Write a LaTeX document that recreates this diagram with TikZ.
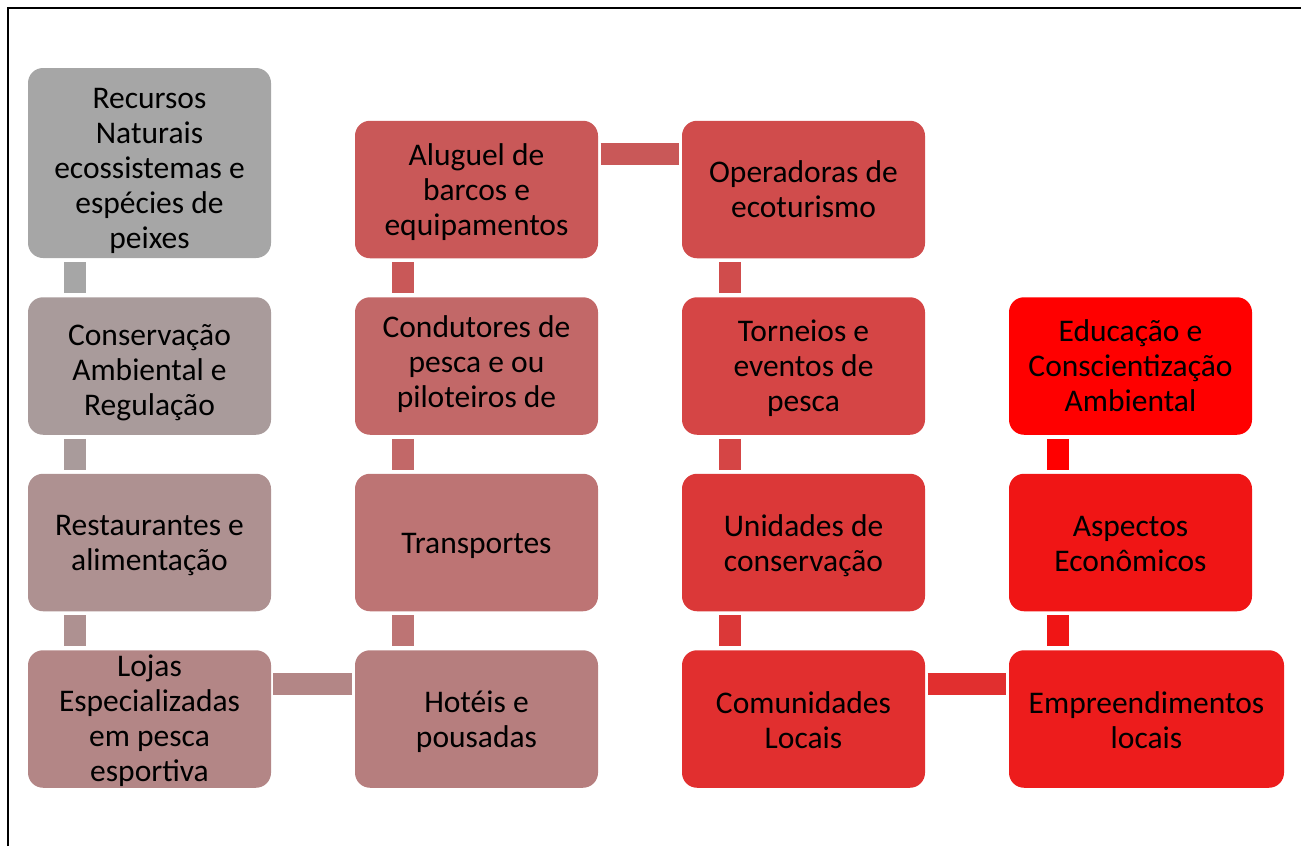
\documentclass[tikz,border=0pt]{standalone}
\usepackage{fontspec}
\setmainfont{Carlito}
\begin{document}
\begin{tikzpicture}[x=1pt,y=-1pt,
  box/.style={rounded corners=15pt, minimum width=243pt, minimum height=137.5pt,
    inner sep=0pt, draw=none},
  txt/.style={align=center, inner sep=0pt, font=\fontsize{31.5}{35}\selectfont, text=black},
  conn/.style={line width=22pt}
]
\useasboundingbox (0,0) rectangle (1301,846);
\definecolor{cA}{HTML}{A6A6A6}
\definecolor{cB}{HTML}{A99B9B}
\definecolor{cC}{HTML}{AE9191}
\definecolor{cD}{HTML}{B38686}
\definecolor{cE}{HTML}{C95858}
\definecolor{cF}{HTML}{C26868}
\definecolor{cG}{HTML}{BD7474}
\definecolor{cH}{HTML}{B67E7E}
\definecolor{cI}{HTML}{D04C4C}
\definecolor{cJ}{HTML}{D54545}
\definecolor{cK}{HTML}{DB3838}
\definecolor{cL}{HTML}{E12F2F}
\definecolor{cM}{HTML}{FF0000}
\definecolor{cN}{HTML}{F01515}
\definecolor{cO}{HTML}{ED1C1C}

% frame
\draw[line width=2.5pt] (8,846) -- (8,8) -- (1302,8);

% column 1
\node[box, fill=cA, minimum height=190pt, label={[txt,yshift=-8pt]center:{Recursos\\Naturais\\ecossistemas e\\espécies de\\peixes}}] (rec) at (149.5,163) {};
\node[box, fill=cB, label={[txt,yshift=-7pt]center:{Conservação\\Ambiental e\\Regulação}}] (cons) at (149.5,366) {};
\node[box, fill=cC, label={[txt,yshift=-3pt]center:{Restaurantes e\\alimentação}}] (rest) at (149.5,542.5) {};
\node[box, fill=cD, label={[txt,yshift=-2pt]center:{Lojas\\Especializadas\\em pesca\\esportiva}}] (loj) at (149.5,719) {};

% column 2
\node[box, fill=cE, label={[txt,yshift=-3pt]center:{Aluguel de\\barcos e\\equipamentos}}] (alug) at (476.5,189.5) {};
\node[box, fill=cF, label={[txt,yshift=2pt]center:{Condutores de\\pesca e ou\\piloteiros de}}] (cond) at (476.5,366) {};
\node[box, fill=cG, label={[txt,yshift=-3.5pt]center:{Transportes}}] (trans) at (476.5,542.5) {};
\node[box, fill=cH, label={[txt,yshift=-3pt]center:{Hotéis e\\pousadas}}] (hot) at (476.5,719) {};

% column 3
\node[box, fill=cI, label={[txt]center:{Operadoras de\\ecoturismo}}] (oper) at (803.5,189.5) {};
\node[box, fill=cJ, label={[txt,yshift=-2pt]center:{Torneios e\\eventos de\\pesca}}] (torn) at (803.5,366) {};
\node[box, fill=cK, label={[txt,yshift=-3pt]center:{Unidades de\\conservação}}] (unid) at (803.5,542.5) {};
\node[box, fill=cL, label={[txt,yshift=-1pt]center:{Comunidades\\Locais}}] (com) at (803.5,719) {};

% column 4
\node[box, fill=cM, label={[txt]center:{Educação e\\Conscientização\\Ambiental}}] (edu) at (1130.5,366) {};
\node[box, fill=cN, label={[txt,yshift=-2pt]center:{Aspectos\\Econômicos}}] (asp) at (1130.5,542.5) {};
\node[box, fill=cO, minimum width=275pt, label={[txt,yshift=-1pt]center:{Empreendimentos\\locais}}] (emp) at (1146.5,719) {};

% vertical connectors
\draw[conn, color=cA] ([xshift=47.5pt,yshift=-4pt]rec.south west) -- ([xshift=47.5pt,yshift=4pt]cons.north west);
\draw[conn, color=cB] ([xshift=47.5pt,yshift=-4pt]cons.south west) -- ([xshift=47.5pt,yshift=4pt]rest.north west);
\draw[conn, color=cC] ([xshift=47.5pt,yshift=-4pt]rest.south west) -- ([xshift=47.5pt,yshift=4pt]loj.north west);

\draw[conn, color=cE] ([xshift=48pt,yshift=-4pt]alug.south west) -- ([xshift=48pt,yshift=4pt]cond.north west);
\draw[conn, color=cF] ([xshift=48pt,yshift=-4pt]cond.south west) -- ([xshift=48pt,yshift=4pt]trans.north west);
\draw[conn, color=cG] ([xshift=48pt,yshift=-4pt]trans.south west) -- ([xshift=48pt,yshift=4pt]hot.north west);

\draw[conn, color=cI] ([xshift=48pt,yshift=-4pt]oper.south west) -- ([xshift=48pt,yshift=4pt]torn.north west);
\draw[conn, color=cJ] ([xshift=48pt,yshift=-4pt]torn.south west) -- ([xshift=48pt,yshift=4pt]unid.north west);
\draw[conn, color=cK] ([xshift=48pt,yshift=-4pt]unid.south west) -- ([xshift=48pt,yshift=4pt]com.north west);

\draw[conn, color=cM] ([xshift=49pt,yshift=-4pt]edu.south west) -- ([xshift=49pt,yshift=4pt]asp.north west);
\draw[conn, color=cN] ([xshift=49pt,yshift=-4pt]asp.south west) -- ([xshift=49pt,yshift=4pt]emp.north west);

% horizontal connectors
\draw[conn, color=cD] ([xshift=2pt,yshift=-33.5pt]loj.north east) -- ([xshift=-2.5pt,yshift=-33.5pt]hot.north west);
\draw[conn, color=cE] ([xshift=2.5pt,yshift=-33pt]alug.north east) -- ([xshift=-3pt,yshift=-33pt]oper.north west);
\draw[conn, color=cL] ([xshift=2.5pt,yshift=-33.5pt]com.north east) -- ([xshift=-3pt,yshift=-33.5pt]emp.north west);
\end{tikzpicture}
\end{document}
